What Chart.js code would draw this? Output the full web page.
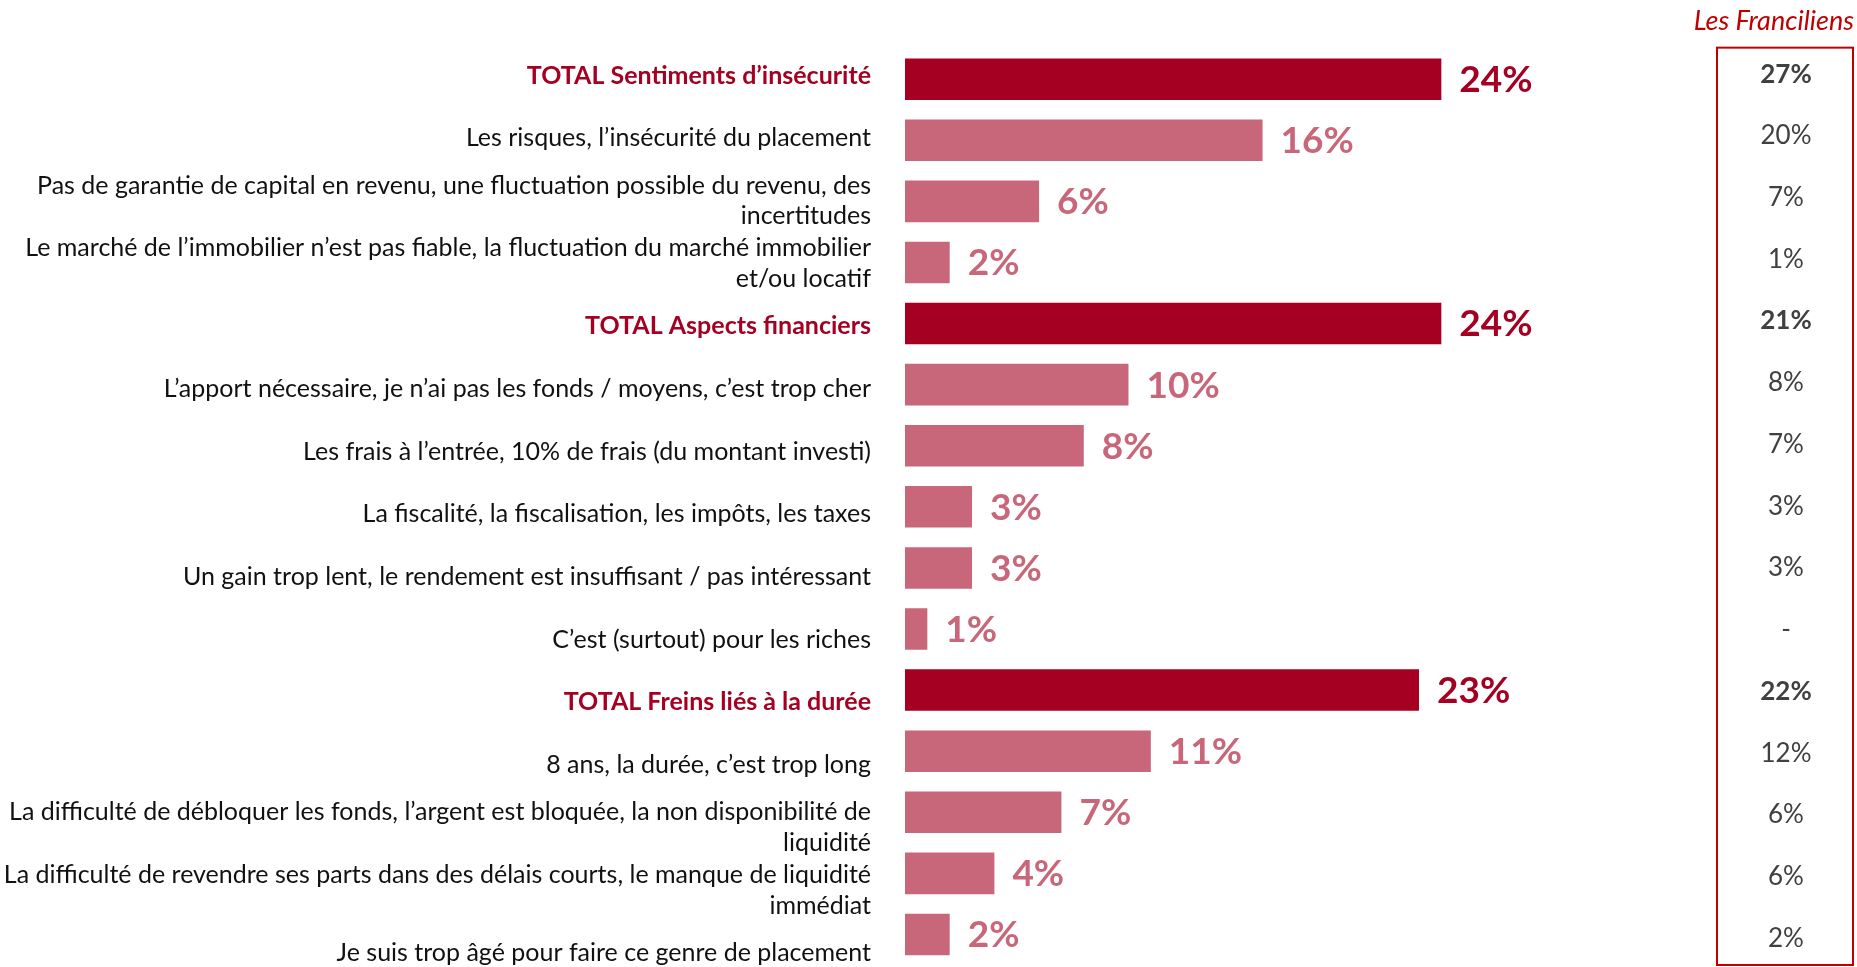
<!DOCTYPE html>
<html>
<head>
<meta charset="utf-8">
<script src="https://cdn.jsdelivr.net/npm/chart.js@4/dist/chart.umd.min.js"></script>
<style>
  html, body { margin: 0; padding: 0; background: #ffffff; }
  #wrap { width: 1857px; height: 967px; }
</style>
</head>
<body>
<div id="wrap"><canvas id="c" width="1857" height="967"></canvas></div>
<script>
// ---- data ----
const categories = [
  "TOTAL Sentiments d\u2019insécurité",
  "Les risques, l\u2019insécurité du placement",
  ["Pas de garantie de capital en revenu, une fluctuation possible du revenu, des", "incertitudes"],
  ["Le marché de l\u2019immobilier n\u2019est pas fiable, la fluctuation du marché immobilier", "et/ou locatif"],
  "TOTAL Aspects financiers",
  "L\u2019apport nécessaire, je n\u2019ai pas les fonds / moyens, c\u2019est trop cher",
  "Les frais à l\u2019entrée, 10% de frais (du montant investi)",
  "La fiscalité, la fiscalisation, les impôts, les taxes",
  "Un gain trop lent, le rendement est insuffisant / pas intéressant",
  "C\u2019est (surtout) pour les riches",
  "TOTAL Freins liés à la durée",
  "8 ans, la durée, c\u2019est trop long",
  ["La difficulté de débloquer les fonds, l\u2019argent est bloquée, la non disponibilité de", "liquidité"],
  ["La difficulté de revendre ses parts dans des délais courts, le manque de liquidité", "immédiat"],
  "Je suis trop âgé pour faire ce genre de placement"
];
const isTotal = [true, false, false, false, true, false, false, false, false, false, true, false, false, false, false];
const values = [24, 16, 6, 2, 24, 10, 8, 3, 3, 1, 23, 11, 7, 4, 2];
const franciliens = [27, 20, 7, 1, 21, 8, 7, 3, 3, null, 22, 12, 6, 6, 2];
const franciliensTitle = "Les Franciliens";

// ---- styles ----
const DARK = "#A50021";
const LIGHT = "#C9677A";
const FONT = "Lato, 'Open Sans', sans-serif";

const barColors = isTotal.map(t => t ? DARK : LIGHT);
const fmt = v => (v === null ? "-" : v + "%");

const valueLabelPlugin = {
  id: "valueLabels",
  afterDatasetsDraw(chart) {
    const ctx = chart.ctx;
    const meta = chart.getDatasetMeta(0);
    ctx.save();
    ctx.textAlign = "left";
    ctx.textBaseline = "middle";
    ctx.font = "bold 37px " + FONT;
    meta.data.forEach((el, i) => {
      ctx.fillStyle = barColors[i];
      ctx.fillText(fmt(values[i]), el.x + 18, el.y + 1);
    });
    ctx.restore();
  }
};

const boxPlugin = {
  id: "francilienBox",
  afterDraw(chart) {
    const s = chart.scales.yR;
    const ctx = chart.ctx;
    ctx.save();
    ctx.strokeStyle = "#C00000";
    ctx.lineWidth = 2;
    ctx.strokeRect(s.left + 1, s.top - 1, s.right - s.left - 2, s.bottom - s.top + 1);
    ctx.textAlign = "center";
    ctx.textBaseline = "middle";
    const cx = (s.left + s.right) / 2 + 1;
    franciliens.forEach((v, i) => {
      ctx.font = (isTotal[i] ? "bold " : "") + "26px " + FONT;
      ctx.fillStyle = "#404040";
      ctx.fillText(fmt(v), cx, s.getPixelForValue(i));
    });
    ctx.restore();
  }
};

const noPad = axis => { axis.paddingTop = 0; axis.paddingBottom = 0; };
const fixTicks = list => axis => {
  axis.ticks = list.map((c, i) => ({ value: i }));
  axis.min = axis.options.min;
  axis.max = axis.options.max;
};

new Chart(document.getElementById("c"), {
  type: "bar",
  data: {
    labels: categories,
    datasets: [{
      data: values,
      backgroundColor: barColors,
      borderWidth: 0,
      categoryPercentage: 1,
      barPercentage: 0.68,
      xAxisID: "x",
      yAxisID: "y"
    }]
  },
  options: {
    indexAxis: "y",
    responsive: false,
    animation: false,
    layout: { padding: { top: 0, bottom: 2, left: 0, right: 3 } },
    plugins: {
      legend: { display: false },
      tooltip: { enabled: false },
      title: {
        display: true,
        text: franciliensTitle,
        align: "end",
        color: "#C00000",
        font: { family: FONT, size: 27, style: "italic", weight: "normal", lineHeight: 1.2 },
        padding: { top: 5, bottom: 11.25 }
      }
    },
    scales: {
      x: {
        type: "linear",
        min: 0,
        max: 36.29,
        display: false
      },
      y: {
        type: "category",
        display: false,
        offset: true
      },
      yL: {
        type: "linear",
        position: "left",
        reverse: true,
        offset: false,
        bounds: "data",
        min: -0.4317,
        max: 14.192,
        grid: { display: false, drawTicks: false, offset: false },
        border: { display: false },
        afterBuildTicks: fixTicks(categories),
        afterFit: axis => { axis.width = 905; noPad(axis); },
        ticks: {
          autoSkip: false,
          padding: 34,
          callback: (v, i) => categories[i],
          color: ctx => isTotal[ctx.index] ? DARK : "#111111",
          font: ctx => ({ family: FONT, size: 25, weight: isTotal[ctx.index] ? "bold" : "normal", lineHeight: 1.23 })
        }
      },
      yR: {
        type: "linear",
        position: "right",
        reverse: true,
        offset: false,
        bounds: "data",
        min: -0.414,
        max: 14.433,
        grid: { display: false, drawTicks: false, offset: false },
        border: { display: false },
        afterBuildTicks: fixTicks(franciliens),
        afterFit: axis => { axis.width = 138; noPad(axis); },
        ticks: { display: false }
      }
    }
  },
  plugins: [valueLabelPlugin, boxPlugin]
});
</script>
</body>
</html>
